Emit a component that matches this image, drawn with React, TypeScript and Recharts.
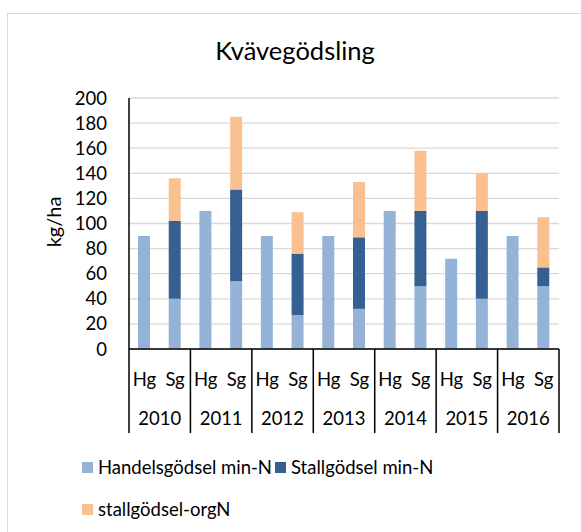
import React from "react";
import { BarChart, Bar, XAxis, YAxis, CartesianGrid } from "recharts";

const years = ["2010", "2011", "2012", "2013", "2014", "2015", "2016"];
const subCats = ["Hg", "Sg"];
const handelsMinN = [90, 40, 110, 54, 90, 27, 90, 32, 110, 50, 72, 40, 90, 50];
const stallMinN = [0, 62, 0, 73, 0, 49, 0, 57, 0, 60, 0, 70, 0, 15];
const stallOrgN = [0, 34, 0, 58, 0, 33, 0, 44, 0, 48, 0, 30, 0, 40];
const yTicks = [0, 20, 40, 60, 80, 100, 120, 140, 160, 180, 200];

const seriesNames = ["Handelsgödsel min-N", "Stallgödsel min-N", "stallgödsel-orgN"];
const seriesColors = ["#95B3D7", "#366092", "#FAC090"];
const seriesKeys = ["handels", "stallMin", "stallOrg"];

const data = handelsMinN.map((v, i) => ({
  sub: subCats[i % 2],
  year: years[Math.floor(i / 2)],
  handels: v,
  stallMin: stallMinN[i],
  stallOrg: stallOrgN[i],
}));

const FONT = "Lato, 'Open Sans', sans-serif";
const PLOT_LEFT = 129;
const PLOT_RIGHT = 559;
const SLOT = (PLOT_RIGHT - PLOT_LEFT) / data.length;

function XTick(props: any) {
  const { x, y, payload } = props;
  const i = payload.index;
  const d = data[i];
  return (
    <g>
      <text x={x} y={y + 37} textAnchor="middle" fontFamily={FONT} fontSize={18.5} fill="#000">
        {d.sub}
      </text>
      {i % 2 === 0 && (
        <>
          <line x1={x - SLOT / 2} x2={x - SLOT / 2} y1={y} y2={y + 84} stroke="#000" strokeWidth={1.5} />
          <text x={x + SLOT / 2} y={y + 76} textAnchor="middle" fontFamily={FONT} fontSize={18.5} fill="#000">
            {d.year}
          </text>
        </>
      )}
      {i === data.length - 1 && (
        <line x1={x + SLOT / 2} x2={x + SLOT / 2} y1={y} y2={y + 84} stroke="#000" strokeWidth={1.5} />
      )}
    </g>
  );
}

export default function App() {
  return (
    <div style={{ position: "fixed", left: 0, top: 0, width: 581, height: 532, overflow: "hidden", background: "#fff" }}>
      <div
        style={{
          position: "absolute",
          left: 7,
          top: 13,
          width: 700,
          height: 700,
          borderLeft: "1.5px solid #d9d9d9",
          borderTop: "1.5px solid #d9d9d9",
        }}
      />
      <div
        style={{
          position: "absolute",
          left: 0,
          width: 590,
          top: 32,
          textAlign: "center",
          fontFamily: FONT,
          fontSize: 25.5,
          color: "#000",
          lineHeight: "36px",
        }}
      >
        Kvävegödsling
      </div>
      <div style={{ position: "absolute", left: 0, top: 0 }}>
        <BarChart
          width={581}
          height={532}
          data={data}
          margin={{ top: 98, right: 581 - PLOT_RIGHT, left: 0, bottom: 98 }}
          barSize={12}
        >
          <CartesianGrid vertical={false} stroke="#d9d9d9" strokeWidth={1.3} />
          <XAxis
            dataKey="sub"
            interval={0}
            height={85}
            tick={<XTick />}
            tickLine={false}
            tickSize={0}
            tickMargin={0}
            axisLine={{ stroke: "#000", strokeWidth: 1.5 }}
          />
          <YAxis
            width={PLOT_LEFT}
            domain={[0, 200]}
            ticks={yTicks}
            interval={0}
            tickLine={false}
            tickSize={0}
            tickMargin={22}
            axisLine={{ stroke: "#000", strokeWidth: 1.5 }}
            tick={{ fontFamily: FONT, fontSize: 18.5, fill: "#000" }}
            label={(p: any) => (
              <text
                x={53}
                y={222}
                transform="rotate(-90, 53, 222)"
                textAnchor="middle"
                dominantBaseline="central"
                fontFamily={FONT}
                fontSize={20}
                fill="#000"
              >
                kg/ha
              </text>
            )}
          />
          {seriesKeys.map((k, i) => (
            <Bar key={k} dataKey={k} stackId="a" fill={seriesColors[i]} isAnimationActive={false} />
          ))}
        </BarChart>
      </div>
      {[
        { idx: 0, left: 82, top: 461 },
        { idx: 1, left: 275, top: 461 },
        { idx: 2, left: 82, top: 503 },
      ].map(({ idx, left, top }) => (
        <div
          key={idx}
          style={{ position: "absolute", left, top: top - 8, display: "flex", alignItems: "center", height: 28 }}
        >
          <div style={{ width: 11, height: 11, background: seriesColors[idx], marginRight: 5 }} />
          <span style={{ fontFamily: FONT, fontSize: 18.5, color: "#000", whiteSpace: "nowrap" }}>
            {seriesNames[idx]}
          </span>
        </div>
      ))}
    </div>
  );
}
